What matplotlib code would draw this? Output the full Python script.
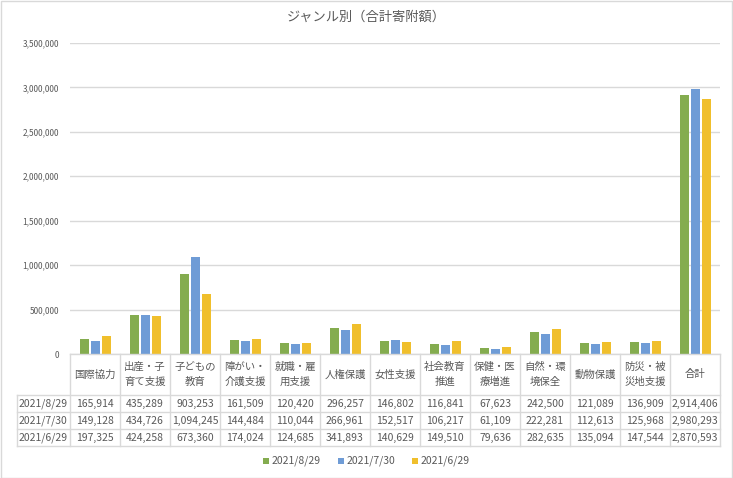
import matplotlib.pyplot as plt
import matplotlib.transforms as mtransforms
from matplotlib.lines import Line2D
from matplotlib.patches import Rectangle
import numpy as np

plt.rcParams['font.family'] = ['Noto Sans CJK JP', 'DejaVu Sans']

# datos
categorias = ['国際協力', '出産・子\n育て支援', '子どもの\n教育', '障がい・\n介護支援', '就職・雇\n用支援',
              '人権保護', '女性支援', '社会教育\n推進', '保健・医\n療増進', '自然・環\n境保全',
              '動物保護', '防災・被\n災地支援', '合計']
fechas = ['2021/8/29', '2021/7/30', '2021/6/29']
serie_0829 = [165914, 435289, 903253, 161509, 120420, 296257, 146802, 116841, 67623, 242500, 121089, 136909, 2914406]
serie_0730 = [149128, 434726, 1094245, 144484, 110044, 266961, 152517, 106217, 61109, 222281, 112613, 125968, 2980293]
serie_0629 = [197325, 424258, 673360, 174024, 124685, 341893, 140629, 149510, 79636, 282635, 135094, 147544, 2870593]
series = [serie_0829, serie_0730, serie_0629]
colores = ['#84AC4F', '#6F9CD6', '#F0BF2C']

W, H = 733, 478
gris = '#595959'
linea = '#D9D9D9'

fig = plt.figure(figsize=(W / 100, H / 100), dpi=100)
fig.patch.set_facecolor('white')
fig.add_artist(Rectangle((0.5 / W, 0.5 / H), 1 - 1.5 / W, 1 - 1.5 / H, transform=fig.transFigure,
                         fill=False, edgecolor=linea, linewidth=1))

# ejes en pixeles
x0, x1, y_top, y_cero = 70, 720, 43, 354
ax = fig.add_axes([x0 / W, 1 - y_cero / H, (x1 - x0) / W, (y_cero - y_top) / H])

x = np.arange(len(categorias))
for k in range(3):
    ax.bar(x + (k - 1) * 0.22, series[k], width=0.18, color=colores[k], zorder=3)

ax.set_xlim(-0.5, len(categorias) - 0.5)
ax.set_ylim(0, 3500000)
ax.set_yticks(np.arange(0, 3500001, 500000))
ax.set_yticklabels([f'{v:,}' for v in range(0, 3500001, 500000)], fontsize=6, color=gris)
ax.tick_params(axis='y', length=0, pad=8)
ax.set_xticks([])
ax.grid(axis='y', color=linea, linewidth=1, zorder=0)
for s in ax.spines.values():
    s.set_visible(False)

# titulo
fig.text(0.5, 1 - 17 / H, 'ジャンル別（合計寄附額）', ha='center', va='center', fontsize=9.5, color=gris)

# tabla de datos
trans = mtransforms.blended_transform_factory(ax.transData, fig.transFigure)
def fy(p):
    return 1 - p / H

filas_y = [354, 395, 412, 429, 446]
izq = 17
# lineas horizontales
fig.add_artist(Line2D([-0.5, len(categorias) - 0.5], [fy(354), fy(354)], transform=trans, color=linea, lw=1))
for yy in filas_y[1:]:
    fig.add_artist(Line2D([izq / W, x1 / W], [fy(yy), fy(yy)], transform=fig.transFigure, color=linea, lw=1))
# lineas verticales
for i in range(len(categorias) + 1):
    fig.add_artist(Line2D([i - 0.5, i - 0.5], [fy(354), fy(446)], transform=trans, color=linea, lw=1))
fig.add_artist(Line2D([izq / W, izq / W], [fy(395), fy(446)], transform=fig.transFigure, color=linea, lw=1))

for i, c in enumerate(categorias):
    fig.text(i, fy(374.5), c, transform=trans, ha='center', va='center', fontsize=7.5,
             color=gris, linespacing=1.6)
    for k in range(3):
        yc = (filas_y[k + 1] + filas_y[k + 2]) / 2
        fig.text(i, fy(yc), f'{series[k][i]:,}', transform=trans, ha='center', va='center',
                 fontsize=7.5, color=gris)

for k in range(3):
    yc = (filas_y[k + 1] + filas_y[k + 2]) / 2
    fig.text((izq + 26) / W, fy(yc), fechas[k], ha='center', va='center', fontsize=7.5, color=gris)

# leyenda
leg_x = [263, 338, 412]
for k in range(3):
    fig.add_artist(Rectangle((leg_x[k] / W, fy(463.5)), 6 / W, 6 / H, transform=fig.transFigure,
                             facecolor=colores[k], edgecolor='none'))
    fig.text((leg_x[k] + 9) / W, fy(460.5), fechas[k], ha='left', va='center', fontsize=7.5, color=gris)

plt.savefig('out.png', dpi=100)
plt.close()
